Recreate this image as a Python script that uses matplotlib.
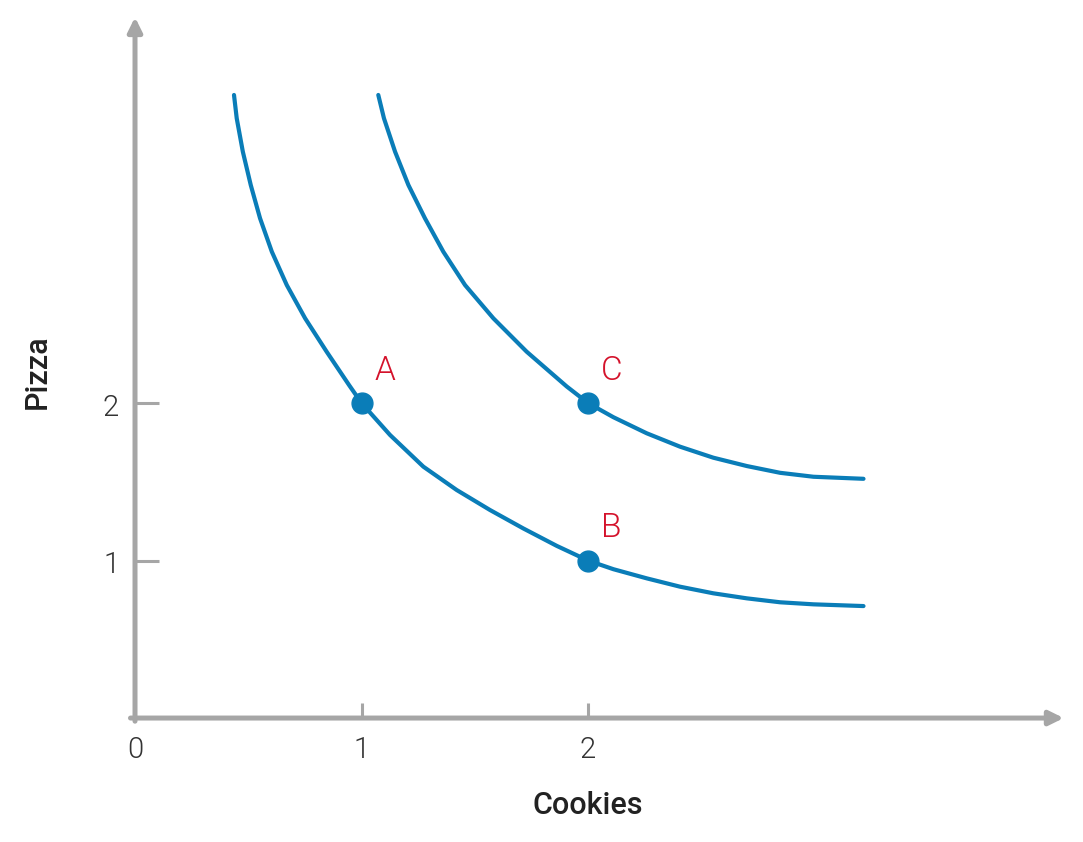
import matplotlib
matplotlib.use('Agg')
import matplotlib.pyplot as plt

# Indifference curves (cookies, pizza)
low_x = [0.437, 0.449, 0.476, 0.511, 0.552, 0.604, 0.670, 0.751, 0.846, 0.945, 1.0,
         1.126, 1.273, 1.420, 1.567, 1.714, 1.862, 2.0, 2.112, 2.259, 2.406, 2.553,
         2.701, 2.848, 2.995, 3.216]
low_y = [3.956, 3.808, 3.596, 3.384, 3.173, 2.961, 2.749, 2.538, 2.326, 2.114, 2.0,
         1.797, 1.596, 1.448, 1.321, 1.204, 1.093, 1.0, 0.945, 0.887, 0.834, 0.792,
         0.760, 0.735, 0.722, 0.711]
high_x = [1.074, 1.099, 1.148, 1.207, 1.280, 1.361, 1.457, 1.582, 1.729, 1.906, 2.0,
          2.112, 2.259, 2.406, 2.553, 2.701, 2.848, 2.995, 3.216]
high_y = [3.956, 3.808, 3.596, 3.384, 3.173, 2.961, 2.749, 2.538, 2.326, 2.105, 2.0,
          1.910, 1.808, 1.723, 1.653, 1.600, 1.557, 1.532, 1.519]

point_names = ['A', 'B', 'C']
point_x = [1, 2, 2]
point_y = [2, 1, 2]

x_ticks = [0, 1, 2]
y_ticks = [1, 2]

blue = '#0a7db8'
grey = '#a6a6a6'
red = '#d4122b'
plt.rcParams['font.family'] = ['Roboto', 'DejaVu Sans']

fig = plt.figure(figsize=(10.83, 8.42), dpi=100)
ax = fig.add_axes([0, 0, 1, 1])
ax.set_xlim(-0.596, 4.185)
ax.set_ylim(-0.787, 4.559)
ax.axis('off')

# axes with arrow heads
ax.annotate('', xy=(4.10, 0), xytext=(-0.02, 0),
            arrowprops=dict(arrowstyle='-|>,head_length=0.85,head_width=0.42',
                            lw=3.6, color=grey, shrinkA=0, shrinkB=0))
ax.annotate('', xy=(0, 4.45), xytext=(0, -0.02),
            arrowprops=dict(arrowstyle='-|>,head_length=0.85,head_width=0.42',
                            lw=3.6, color=grey, shrinkA=0, shrinkB=0))

# tick marks and labels
for t in x_ticks:
    if t > 0:
        ax.plot([t, t], [0, 0.095], color=grey, lw=2.2, solid_capstyle='butt')
    ax.text(t, -0.205, str(t), ha='center', va='center', fontsize=21,
            fontweight=300, color='#333333')
for t in y_ticks:
    ax.plot([0, 0.105], [t, t], color=grey, lw=2.2, solid_capstyle='butt')
    ax.text(-0.07, t - 0.03, str(t), ha='right', va='center', fontsize=21,
            fontweight=300, color='#333333')

ax.plot(low_x, low_y, color=blue, lw=3.0, solid_capstyle='round',
        solid_joinstyle='round')
ax.plot(high_x, high_y, color=blue, lw=3.0, solid_capstyle='round',
        solid_joinstyle='round')
ax.plot(point_x, point_y, 'o', color=blue, markersize=15)

for n, px, py in zip(point_names, point_x, point_y):
    ax.text(px + 0.104, py + 0.205, n, ha='center', va='center', fontsize=24,
            fontweight=300, color=red)

ax.text(2.0, -0.555, 'Cookies', ha='center', va='center', fontsize=22,
        fontweight='medium', color='#222222')
ax.text(-0.433, 2.197, 'Pizza', ha='center', va='center', fontsize=22,
        fontweight='medium', color='#222222', rotation=90)

fig.savefig('out.png', dpi=100)
